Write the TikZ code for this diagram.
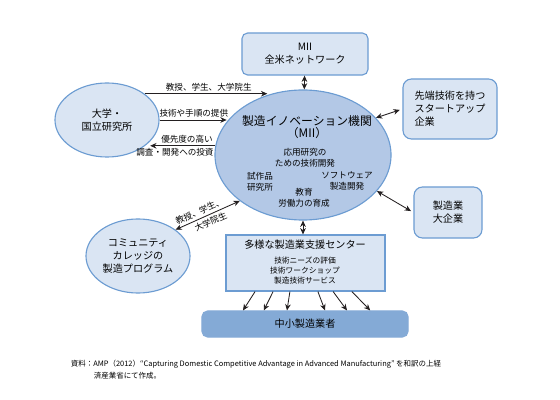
\documentclass[tikz,border=0pt]{standalone}
\usepackage{fontspec}
\setmainfont{Noto Sans CJK JP}
\usetikzlibrary{arrows.meta,shapes.geometric}

\definecolor{lightfill}{HTML}{DAE5F3}
\definecolor{midfill}{HTML}{B3C8E6}
\definecolor{smefill}{HTML}{84AAD6}
\definecolor{edge}{HTML}{6C9CD2}
\definecolor{ink}{HTML}{231F20}

\begin{document}
\begin{tikzpicture}[x=0.025cm, y=-0.025cm, >={Stealth[length=4.5pt,width=4pt]},
    box/.style={draw=edge, fill=lightfill, rounded corners=4pt, line width=0.8pt, inner sep=0pt},
    oval/.style={draw=edge, fill=lightfill, ellipse, line width=0.8pt, inner sep=0pt},
    txt/.style={align=center, font=\fontsize{7.2}{9.2}\selectfont},
    big/.style={align=center, font=\fontsize{8.4}{8.6}\selectfont},
    lbl/.style={align=center, font=\fontsize{6.1}{7.8}\selectfont, inner sep=1.5pt},
    tiny/.style={align=center, font=\fontsize{5.5}{6.8}\selectfont},
    link/.style={draw=ink, line width=0.6pt}]
      \useasboundingbox (0,0) rectangle (560,400);

        % Nodes
        \node[box, minimum width=3.15cm, minimum height=1.05cm, txt] (net) at (305,54) {MII\\全米ネットワーク};
        \node[oval, fill=midfill, minimum width=4.4cm, minimum height=3.25cm] (mii) at (303,155) {};
        \node[oval, minimum width=2.6cm, minimum height=1.85cm, txt] (uni) at (107,120) {大学・\\国立研究所};
        \node[oval, minimum width=2.6cm, minimum height=1.85cm, txt] (cc) at (138,256) {コミュニティ\\カレッジの\\製造プログラム};
        \node[box, rounded corners=6pt, minimum width=2.35cm, minimum height=1.5cm, txt, align=left] (start) at (450,109) {先端技術を持つ\\スタートアップ\\企業};
        \node[box, rounded corners=6pt, minimum width=1.7cm, minimum height=1.275cm, txt] (ent) at (448,212.5) {製造業\\大企業};
        \node[box, rounded corners=0pt, minimum width=3.975cm, minimum height=1.4cm] (sup) at (305.5,263) {};
        \node[box, draw=smefill, fill=smefill, minimum width=5.15cm, minimum height=0.65cm, txt] (sme) at (305,324) {中小製造業者};

        % Texts in the MII oval and the centre box
        \node[big] (miititle) at (307,127) {製造イノベーション機関\\（MII）};
        \node[lbl] (applied) at (305,157.5) {応用研究の\\ための技術開発};
        \node[lbl] (proto) at (260,181.5) {試作品\\研究所};
        \node[lbl] (soft) at (347,181) {ソフトウェア\\製造開発};
        \node[lbl] (edu) at (304,198) {教育\\労働力の育成};
        \node[txt] (suptitle) at (305,245) {多様な製造業支援センター};
        \node[tiny] (supitems) at (305,270.5) {技術ニーズの評価\\技術ワークショップ\\製造技術サービス};

        % Connectors
        \draw[link, <->] (net) -- (mii);
        \draw[link, <->] (mii.south) -- (mii.south |- sup.north);
        \draw[link, <->, shorten >=2pt] (mii.27) -- (start.west);
        \draw[link, <->, shorten >=2pt] (mii.-26) -- (ent.west);
        \draw[link, ->, shorten >=4pt] (uni.35) -- node[lbl, above] (l1) {教授、学生、大学院生} (uni.35 -| mii.116);
        \draw[link, ->, shorten >=1pt] (uni.east) -- node[lbl, above] (l2) {技術や手順の提供} (uni.east -| mii.155);
        \draw[link, ->, shorten >=4pt] (mii.174) -- node[lbl, above, pos=0.4] (l3) {優先度の高い}
            node[lbl, below, pos=0.57] (l4) {調査・開発への投資} (mii.174 -| uni.-35);
        \draw[link, <->] (cc.35) -- node[lbl, above, sloped, pos=0.42, inner sep=2pt] (l5) {教授、学生、}
            node[lbl, below, sloped, pos=0.5, inner sep=2pt] (l6) {大学院生} (mii.216);
        \foreach \s/\e in {-1.26/-1.55, -0.81/-1.03, -0.39/-0.45, 0.31/0.5, 0.69/1.05, 1.16/1.63}
            \draw[link, ->] ([xshift=\s cm]sup.south) -- ([xshift=\e cm]sme.north);

        % Source
        \node[tiny, font=\fontsize{5.3}{6.6}\selectfont, anchor=west] (cap1) at (66,364) {資料：AMP（2012）“Capturing Domestic Competitive Advantage in Advanced Manufacturing” を和訳の上経};
        \node[tiny, font=\fontsize{5.3}{6.6}\selectfont, anchor=west] (cap2) at (89,376) {済産業省にて作成。};

    \end{tikzpicture}
\end{document}
